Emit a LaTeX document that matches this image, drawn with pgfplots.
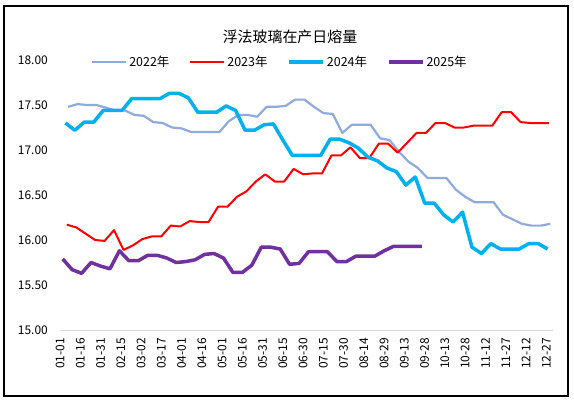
\documentclass[border=0pt]{standalone}
\usepackage{pgfplots}
\pgfplotsset{compat=1.18}
\usepackage{pgfplotstable}
\usepackage{fontspec}
\setmainfont{Noto Sans CJK SC}
\definecolor{c22}{HTML}{8FAADC}
\definecolor{c23}{HTML}{FF0000}
\definecolor{c24}{HTML}{00B0F0}
\definecolor{c25}{HTML}{7030A0}

\pgfplotstableread{
d v
6 17.48
13 17.51
20 17.50
27 17.50
34 17.47
41 17.44
48 17.44
55 17.39
62 17.38
69 17.31
76 17.30
83 17.25
90 17.24
97 17.20
104 17.20
111 17.20
118 17.20
125 17.32
132 17.39
139 17.39
146 17.37
153 17.48
160 17.48
167 17.49
174 17.56
181 17.56
188 17.48
195 17.41
202 17.40
209 17.19
216 17.28
223 17.28
230 17.28
237 17.13
244 17.11
251 16.98
258 16.87
265 16.80
272 16.69
279 16.69
286 16.69
293 16.56
300 16.48
307 16.42
314 16.42
321 16.42
328 16.28
335 16.23
342 16.18
349 16.16
356 16.16
363 16.18
}\tA

\pgfplotstableread{
d v
5 16.17
12 16.14
19 16.07
26 16.00
33 15.99
40 16.11
47 15.89
54 15.94
61 16.01
68 16.04
75 16.04
82 16.16
89 16.15
96 16.21
103 16.20
110 16.20
117 16.37
124 16.37
131 16.48
138 16.54
145 16.65
152 16.73
159 16.65
166 16.65
173 16.79
180 16.73
187 16.74
194 16.74
201 16.94
208 16.94
215 17.03
222 16.91
229 16.91
236 17.07
243 17.07
250 16.97
257 17.08
264 17.19
271 17.19
278 17.30
285 17.30
292 17.25
299 17.25
306 17.27
313 17.27
320 17.27
327 17.42
334 17.42
341 17.31
348 17.30
355 17.30
362 17.30
}\tB

\pgfplotstableread{
d v
4 17.30
11 17.22
18 17.31
25 17.31
32 17.44
39 17.44
46 17.44
53 17.57
60 17.57
67 17.57
74 17.57
81 17.63
88 17.63
95 17.58
102 17.42
109 17.42
116 17.42
123 17.49
130 17.44
137 17.22
144 17.22
151 17.28
158 17.29
165 17.11
172 16.94
179 16.94
186 16.94
193 16.94
200 17.12
207 17.12
214 17.08
221 17.02
228 16.92
235 16.88
242 16.80
249 16.76
256 16.61
263 16.70
270 16.41
277 16.41
284 16.28
291 16.20
298 16.31
305 15.92
312 15.85
319 15.96
326 15.90
333 15.90
340 15.90
347 15.96
354 15.96
361 15.90
}\tC

\pgfplotstableread{
d v
2 15.79
9 15.67
16 15.63
23 15.75
30 15.71
37 15.68
44 15.88
51 15.77
58 15.77
65 15.83
72 15.83
79 15.80
86 15.75
93 15.76
100 15.78
107 15.84
114 15.85
121 15.80
128 15.64
135 15.64
142 15.72
149 15.92
156 15.92
163 15.90
170 15.73
177 15.74
184 15.87
191 15.87
198 15.87
205 15.76
212 15.76
219 15.82
226 15.82
233 15.82
240 15.88
247 15.93
254 15.93
261 15.93
268 15.93
}\tD

\begin{document}
\begin{tikzpicture}[x=1bp,y=1bp]
\path[use as bounding box] (0,0) rectangle (574,399);
\draw[line width=1.2bp] (4,3) rectangle (568,393);
\node[font=\fontsize{15}{17}\selectfont] at (290,362) {浮法玻璃在产日熔量};
\begin{axis}[
  at={(60bp,69bp)}, anchor=south west,
  scale only axis, width=493bp, height=270bp,
  xmin=0, xmax=365, ymin=15, ymax=18,
  axis x line*=bottom, axis y line*=left,
  x axis line style={draw=black!15, line width=0.8bp},
  y axis line style={draw=none},
  major tick length=0pt,
  ytick={15,15.5,...,18},
  xtick={0,15,...,360},
  xticklabels={01-01,01-16,01-31,02-15,03-02,03-17,04-01,04-16,05-01,05-16,05-31,06-15,06-30,07-15,07-30,08-14,08-29,09-13,09-28,10-13,10-28,11-12,11-27,12-12,12-27},
  xticklabel style={font=\fontsize{12}{14}\selectfont, rotate=90, anchor=east, inner xsep=8bp},
  yticklabel style={font=\fontsize{12}{14}\selectfont, anchor=east, inner xsep=12bp,
    /pgf/number format/.cd, fixed, fixed zerofill, precision=2, assume math mode=true},
  legend style={at={(0.446,0.993)}, anchor=center, draw=none, fill=none,
    legend columns=4, font=\fontsize{12.5}{14}\selectfont,
    /tikz/every even column/.append style={column sep=18bp}},
  legend image code/.code={\draw[#1] (0bp,0bp) -- (34bp,0bp);},
  line join=round,
]
\addplot[c22, line width=2.2bp, no marks] table[x=d,y=v] {\tA};
\addlegendentry{2022年}
\addplot[c23, line width=2bp, no marks] table[x=d,y=v] {\tB};
\addlegendentry{2023年}
\addplot[c24, line width=3.5bp, no marks] table[x=d,y=v] {\tC};
\addlegendentry{2024年}
\addplot[c25, line width=3.5bp, no marks] table[x=d,y=v] {\tD};
\addlegendentry{2025年}
\end{axis}
\end{tikzpicture}
\end{document}
